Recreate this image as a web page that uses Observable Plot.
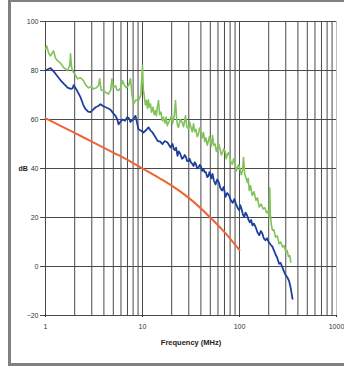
<!DOCTYPE html>
<html><head><meta charset="utf-8">
<script src="https://cdn.jsdelivr.net/npm/d3@7"></script>
<script src="https://cdn.jsdelivr.net/npm/@observablehq/plot@0.6"></script>
<style>
body{margin:0;background:#fff;width:344px;height:371px;overflow:hidden;position:relative}
#frame{position:absolute;left:8px;top:0;width:345px;height:361px;border:3px solid #808080;border-top-width:2px;border-right:none}
#chart{position:absolute;left:0;top:0}
</style></head><body>
<div id="frame"></div><div id="chart"></div>
<script>
const xTicks = [1, 10, 100, 1000];
const xGrid = [1,2,3,4,5,6,7,8,9,10,20,30,40,50,60,70,80,90,100,200,300,400,500,600,700,800,900];
const xGridEnd = [1000];
const yTicks = [-20, 0, 20, 40, 60, 80, 100];

const blueF = [1,1.06,1.13,1.25,1.43,1.55,1.69,1.82,1.9,1.95,2.1,2.3,2.45,2.58,2.75,2.91,3.1,3.28,3.5,3.69,3.9,4.16,4.4,4.68,5.0,5.27,5.5,5.66,5.9,6.22,6.6,7.0,7.3,7.52,8.0,8.47,8.8,9.09,9.6,10.24,11.0,11.53,12.1,12.68,13.5,14.28,15.2,16.08,17.0,18.1,19.45,
  20.4,21,21.5,22.2,22.95,23.7,24.5,25.5,26.5,27.2,28,28.9,29.8,30.6,31.5,32.5,33.6,34.5,35.5,36.6,37.8,38.9,40,41.3,42.6,43.8,45,46.5,47.9,49,50,51.3,52.7,54.5,56.6,58.8,61,63.5,66,68.8,71.7,74.8,78,81.5,85,88.5,92,95.5,99.3,102,105,108,111.7,115.5,120,124,128,132,136,141,147,153,160,166,172,178,185,192,200,209,219,227,235,245,256,265,275,287,300,312,325,338,352];
const blueDb = [80,80.5,81,79,76,74.5,73,72.5,72.7,74,72,69,66,64.3,63.2,63,64,65,65.5,66.3,65.5,65,64.6,64,62.5,61.5,60,58,59,60,59.5,61,60.3,59,60,61.5,58.5,56,55.5,54.7,55.8,56.8,55.5,54.7,53,51.3,51,50,51.2,50.6,48.6,
  50,48,47.5,48.5,45.2,47,46,44,44.5,45.5,44.8,43,43,44,42.5,42,41,42.5,41.8,40,40.4,41.5,40.8,39,39.8,38.5,38.5,36.5,37,38.5,37.5,36,37.8,35,33.5,35.5,34.5,32,31,32.5,28.4,30,29,27,26,27.5,25.5,24,23,25,23.5,21.5,20.2,22,20.8,19,18,19,16.8,17.5,16,14,12.8,14.5,13.5,11.5,10.7,11.5,10,9,8,6.5,5,3.5,1.1,1.5,0,-2,-3.6,-4.5,-6,-9,-13.2];

const greenF = [1,1.03,1.08,1.126,1.21,1.27,1.33,1.43,1.53,1.69,1.78,1.81,1.86,1.94,2.04,2.14,2.3,2.46,2.6,2.78,2.95,3.13,3.35,3.52,3.62,3.75,3.96,4.2,4.46,4.7,4.85,5.0,5.27,5.45,5.66,5.95,6.22,6.5,6.84,7.2,7.52,7.8,8.08,8.5,9.09,9.6,
  10.0,10.2,10.4,10.7,11.0,11.25,11.5,11.8,12.09,12.4,12.8,13.2,13.62,13.9,14.2,14.62,15.0,15.5,16.0,16.46,17.0,17.5,18.0,18.53,19.2,19.9,20.4,20.8,21.3,21.9,22.5,23.0,23.5,24.5,25.5,26.5,27.75,28.7,29.8,30.6,31.5,32.5,33.6,34.5,35.5,36.6,37.8,38.8,40,41.3,42.6,43.8,45,46.5,47.9,49,50,51.3,52.7,54.3,56,57.7,59.3,61,63,65,66.8,69,71,73,75.2,77.5,80,82.5,84.7,87,90,92.5,95.3,98,101,104,107.4,110,113,117,120.8,123,126,130,135,141,148,153,159.6,167,175,182,190,196,202.4,205,208,213,218.8,226,235,245,256.5,266,278,288,300,310,320,330,338];
const greenDb = [88.8,90,87,86,88,85,84,83,81.3,80,82,86.8,81,79.3,78,76.6,77,75.9,74,72.9,73.5,72.5,73,73.8,76.6,72,71.8,71,70.4,72,76.6,73,73.8,72,71.8,73,75.9,74,73,74,76.6,70,66.3,68,67.7,70,
  82,72,70,66,67.7,64.5,68,65,66.3,63,65,62,63.6,61.5,65,67.7,62,63,59.5,60.9,58.5,61,57.5,58.8,60,61.5,58.2,60,62,67.7,60,57.5,56.8,60,59,57,61.5,57,56.1,59,57,55,58.2,55,56,53,54.1,56.5,55.5,52.5,54.7,51,52.5,49.5,51.3,53,52,49,53.4,49.5,50,47,48.6,50,48,45.5,46.5,48,47,44,45.9,46.5,44,42,41.8,44,42.5,39,40.4,41.5,40,37.5,39,44.5,38,36,34.3,36,31,33,29,30.5,27,28,24.3,25.5,23.5,24,22,22.5,20.2,32,21,17,14.8,15,12,12.5,9.3,10,8,8.5,6,6.5,4,4.5,1.8];

const orangeF = [1,1.5,2,3,5,7,10,15,20,30,50,70,100];
const orangeDb = [60.5,57,54.5,51,46.5,43.5,40,36,33,28,20,14,6.7];

const toRows = (fs, vs) => fs.map((f, i) => ({f, v: vs[i]}));
const blue = toRows(blueF, blueDb);
const green = toRows(greenF, greenDb);
const orange = toRows(orangeF, orangeDb);

const chart = Plot.plot({
  width: 344, height: 371,
  marginLeft: 45, marginRight: 8, marginTop: 21, marginBottom: 56,
  x: {type: "log", domain: [1, 1000]},
  y: {domain: [-20, 100]},
  style: {fontFamily: "'Liberation Sans', Arial, sans-serif", fontSize: "7px", color: "#333", background: "transparent"},
  marks: [
    Plot.ruleX(xGrid, {stroke: "#4a4a4a", strokeWidth: 1}),
    Plot.ruleX(xGridEnd, {stroke: "#bdbdbd", strokeWidth: 1}),
    Plot.ruleY(yTicks, {stroke: "#4a4a4a", strokeWidth: 1}),
    Plot.axisY({ticks: yTicks, tickSize: 5, tickPadding: 2, label: null, stroke: "#4a4a4a"}),
    Plot.axisX({ticks: xTicks, tickSize: 2, tickPadding: 7, tickFormat: d => String(d), label: null}),
    Plot.line(orange, {x: "f", y: "v", stroke: "#ee6535", strokeWidth: 2, curve: "monotone-x"}),
    Plot.line(green, {x: "f", y: "v", stroke: "#82c25a", strokeWidth: 1.6}),
    Plot.line(blue, {x: "f", y: "v", stroke: "#1e3f9c", strokeWidth: 1.8}),
    Plot.text(["Frequency (MHz)"], {frameAnchor: "bottom", dy: 29, fontWeight: "bold", fontSize: 7.5, fill: "#222"}),
    Plot.text(["dB"], {frameAnchor: "left", dx: -27, fontWeight: "bold", fontSize: 7, fill: "#222"})
  ]
});
document.getElementById("chart").appendChild(chart);
</script></body></html>
